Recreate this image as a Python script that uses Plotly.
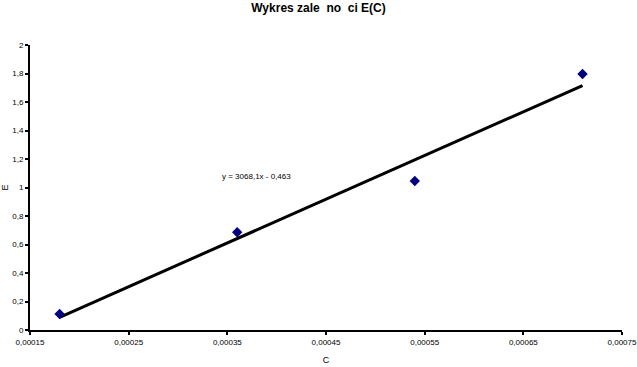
import plotly.graph_objects as go

C_values = [0.00018, 0.00036, 0.00054, 0.00071]
E_values = [0.112, 0.686, 1.046, 1.796]
slope = 3068.1
intercept = -0.463
eq_label = "y = 3068,1x - 0,463"
title_text = "Wykres zale  no  ci E(C)"
x_ticks = [0.00015, 0.00025, 0.00035, 0.00045, 0.00055, 0.00065, 0.00075]
x_tick_text = ["0,00015", "0,00025", "0,00035", "0,00045", "0,00055", "0,00065", "0,00075"]

x_line = [min(C_values), max(C_values)]
y_line = [slope * x + intercept for x in x_line]

fig = go.Figure()
fig.add_trace(go.Scatter(x=x_line, y=y_line, mode="lines",
                         line=dict(color="black", width=3), showlegend=False))
fig.add_trace(go.Scatter(x=C_values, y=E_values, mode="markers",
                         marker=dict(symbol="diamond", color="#000080", size=8),
                         showlegend=False))

fig.add_annotation(x=0.00038, y=1.074, text=eq_label, showarrow=False,
                   font=dict(size=8, color="black", family="Liberation Sans, Arial"))

fig.update_layout(
    width=637, height=367,
    margin=dict(l=30, r=15, t=45, b=37, autoexpand=False),
    paper_bgcolor="white", plot_bgcolor="white",
    separators=", ",
    font=dict(family="Liberation Sans, Arial", color="black", size=8),
    title=dict(text="<b>" + title_text + "</b>", x=0.5, xref="container", xanchor="center",
               y=0.99, yanchor="top", font=dict(size=12)),
    xaxis=dict(range=[0.00015, 0.00075001], tickvals=x_ticks, ticktext=x_tick_text,
               ticklabeloverflow="allow",
               showgrid=False, zeroline=False, automargin=False,
               showline=True, linecolor="black", linewidth=2,
               ticks="outside", ticklen=3, tickwidth=2, tickcolor="black",
               title=dict(text="C", standoff=11, font=dict(size=9))),
    yaxis=dict(range=[0, 2], tick0=0, dtick=0.2, showgrid=False, zeroline=False,
               automargin=False,
               showline=True, linecolor="black", linewidth=2,
               ticks="outside", ticklen=3, tickwidth=2, tickcolor="black",
               title=dict(text="E", standoff=8, font=dict(size=9))),
)

fig.write_html("out.html", config={"displayModeBar": False},
               post_script="document.body.style.margin='0';")
